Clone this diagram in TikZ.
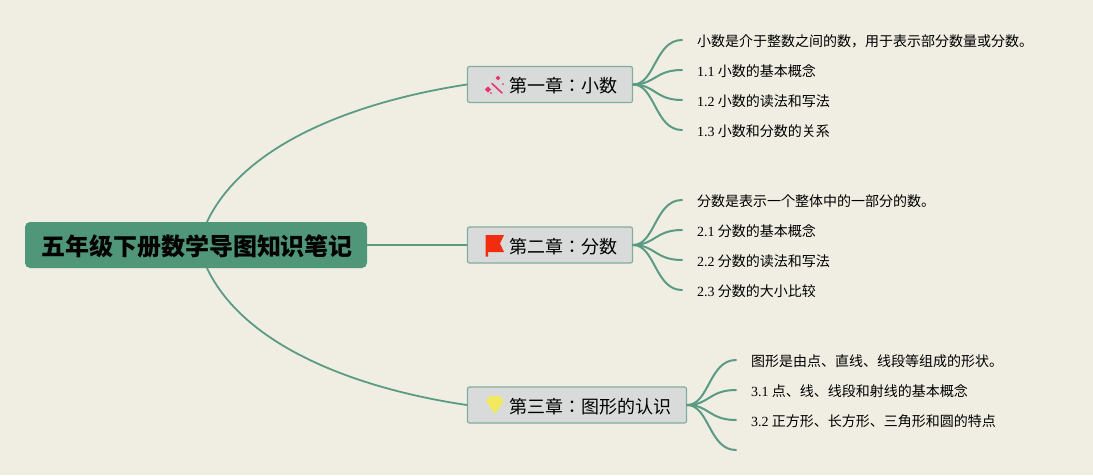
\documentclass[tikz,border=0pt]{standalone}
\usepackage{fontspec}
\usetikzlibrary{positioning}
\newfontfamily\cjk{Noto Sans CJK JP}
\newfontfamily\latfont{Liberation Serif}
\newcommand{\lat}[1]{{\latfont #1}}
\newcommand{\dropped}[1]{\raisebox{-1.5pt}[\height][\depth]{#1}}
\definecolor{paper}{HTML}{F0EEE3}
\definecolor{teal}{HTML}{5B9A85}
\definecolor{rootcol}{HTML}{4F9778}
\definecolor{chapcol}{HTML}{D9DBDB}
\definecolor{chapline}{HTML}{82AC9F}
\definecolor{wandcol}{HTML}{E8356F}
\definecolor{flagcol}{HTML}{F22C0F}
\definecolor{gemcol}{HTML}{F2E95E}
\tikzset{
 rootbox/.style={fill=rootcol,rounded corners=5pt,minimum width=342pt,minimum height=46pt,inner sep=0pt,font=\fontsize{24}{28}\cjk\bfseries},
 chapbox/.style={fill=chapcol,draw=chapline,line width=1.2pt,rounded corners=2pt,minimum height=36pt,inner sep=0pt,font=\fontsize{18}{22}\cjk},
 leaf/.style={inner sep=0pt,anchor=west,yshift=-1pt,font=\fontsize{14}{17}\cjk},
 bough/.style={draw=teal,line width=1.8pt,line cap=round},
 twig/.style={draw=teal,line width=2pt,line cap=round}
}
\begin{document}
\begin{tikzpicture}[x=1pt,y=-1pt,line join=round]
 \useasboundingbox (0,0) rectangle (1093,475);
 \fill[paper] (0,0) rectangle (1093,475);
 \node[rootbox] (root) at (196,245) {\hspace*{2pt}\dropped{五年级下册数学导图知识笔记}};
 \node[chapbox,minimum width=165pt] (ch1) at (550,84.5) {\hspace*{27pt}\dropped{第一章：小数}};
 \node[chapbox,minimum width=165pt] (ch2) at (550,245) {\hspace*{27pt}\dropped{第二章：分数}};
 \node[chapbox,minimum width=219pt] (ch3) at (577,405) {\hspace*{27pt}\dropped{第三章：图形的认识}};
 \draw[bough] ([xshift=11pt]root.north) .. controls (246,140) and (365,100) .. (ch1.west);
 \draw[bough] (root.east) -- (ch2.west);
 \draw[bough] ([xshift=11pt]root.south) .. controls (246,350) and (365,390) .. (ch3.west);
 \foreach \i/\y/\t in {1/40/{小数是介于整数之间的数，用于表示部分数量或分数。},2/70/{\lat{1.1} 小数的基本概念},3/100/{\lat{1.2} 小数的读法和写法},4/130/{\lat{1.3} 小数和分数的关系}}{
  \coordinate (a\i) at (682,\y);
  \node[leaf,right=15pt of a\i,anchor=west] (ta\i) {\t};
  \draw[twig] (ch1.east) .. controls +(22,0) and +(-27,0) .. (a\i);
 }
 \foreach \i/\y/\t in {1/200/{分数是表示一个整体中的一部分的数。},2/230/{\lat{2.1} 分数的基本概念},3/260/{\lat{2.2} 分数的读法和写法},4/290/{\lat{2.3} 分数的大小比较}}{
  \coordinate (b\i) at (682,\y);
  \node[leaf,right=15pt of b\i,anchor=west] (tb\i) {\t};
  \draw[twig] (ch2.east) .. controls +(22,0) and +(-27,0) .. (b\i);
 }
 \foreach \i/\y/\t in {1/360/{图形是由点、直线、线段等组成的形状。},2/390/{\lat{3.1} 点、线、线段和射线的基本概念},3/420/{\lat{3.2} 正方形、长方形、三角形和圆的特点}}{
  \coordinate (c\i) at (736,\y);
  \node[leaf,right=15pt of c\i,anchor=west] (tc\i) {\t};
  \draw[twig] (ch3.east) .. controls +(22,0) and +(-27,0) .. (c\i);
 }
 \coordinate (c4) at (736,450);
 \draw[twig] (ch3.east) .. controls +(22,0) and +(-27,0) .. (c4);
 \draw[wandcol,line width=1.6pt,line cap=round] (492,83.5) -- (502,93);
 \foreach \sx/\sy/\sr in {488/89.5/3.2,498/78/2.4,503/84/1,491/93/1}
  \fill[wandcol] (\sx-\sr,\sy) -- (\sx,\sy-\sr) -- (\sx+\sr,\sy) -- (\sx,\sy+\sr) -- cycle;
 \fill[flagcol] (485.5,235) -- (504,235) -- (500,243.5) -- (504,252) -- (488,252) -- (488,256.5) -- (485.5,256.5) -- cycle;
 \fill[gemcol,rounded corners=1.5pt] (490,396) -- (500,396) -- (504,401) -- (495,414) -- (486,401) -- cycle;
\end{tikzpicture}
\end{document}
